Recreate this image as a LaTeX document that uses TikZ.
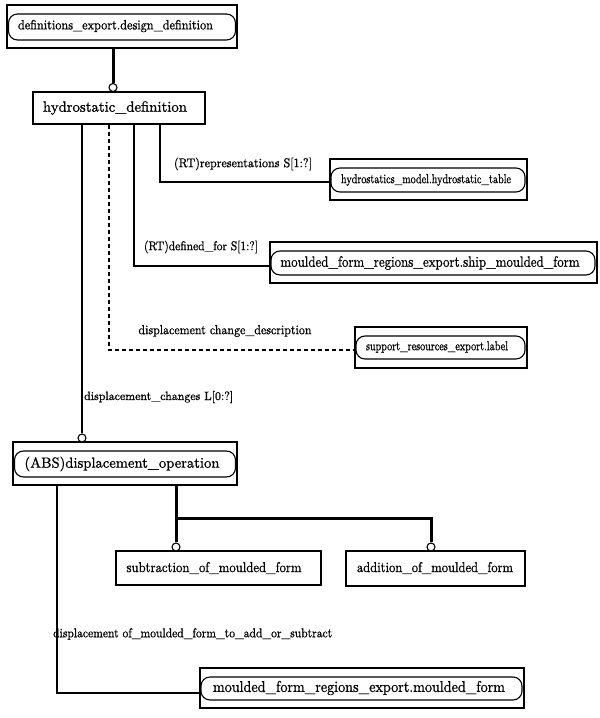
\documentclass[tikz,border=0pt]{standalone}
\usepackage{graphicx}
\usepackage{fontspec}
\setmainfont{lmroman10-regular.otf}[FakeBold=1.0]
\newcommand{\lbl}[3]{\resizebox{#1pt}{#2pt}{#3}}
\begin{document}
\begin{tikzpicture}[x=1pt,y=-1pt,
  obox/.style={draw, line width=1.1pt, inner sep=0pt, rectangle},
  rbox/.style={draw, line width=1.1pt, inner sep=0pt, rounded corners=9pt},
  txt/.style={inner sep=0pt},
  thin/.style={line width=1.1pt},
  heavy/.style={line width=3pt},
  ocirc/.style={draw, circle, fill=white, line width=1.1pt, inner sep=0pt, minimum size=8pt}]
\useasboundingbox (0,0) rectangle (600,718);
% boxes
\node[obox, minimum width=230pt, minimum height=43pt] (def) at (122,26.5) {};
\node[rbox, minimum width=227pt, minimum height=26pt] (defi) at (122,27) {};
\node[txt] (deft) at (115.5,26) {\lbl{195}{9.5}{definitions\_export.design\_definition}};

\node[obox, minimum width=172pt, minimum height=32pt] (hydro) at (119,108) {};
\node[txt] (hydrot) at (115,108) {\lbl{144}{10.5}{hydrostatic\_definition}};

\node[obox, minimum width=197pt, minimum height=41pt] (tab) at (428.5,179.5) {};
\node[rbox, minimum width=194pt, minimum height=24pt] (tabi) at (428,180) {};
\node[txt] (tabt) at (426,180) {\lbl{170}{9}{hydrostatics\_model.hydrostatic\_table}};

\node[obox, minimum width=327pt, minimum height=41pt] (ship) at (433.5,262.5) {};
\node[rbox, minimum width=324pt, minimum height=24pt] (shipi) at (433,263) {};
\node[txt] (shipt) at (430,263) {\lbl{299}{10.5}{moulded\_form\_regions\_export.ship\_moulded\_form}};

\node[obox, minimum width=172pt, minimum height=41pt] (sup) at (441,347.5) {};
\node[rbox, minimum width=169pt, minimum height=23pt] (supi) at (440.5,347.5) {};
\node[txt] (supt) at (437,347) {\lbl{142}{9}{support\_resources\_export.label}};

\node[obox, minimum width=224pt, minimum height=43pt] (disp) at (125,463.5) {};
\node[rbox, minimum width=221pt, minimum height=26pt] (dispi) at (125,464) {};
\node[txt] (dispt) at (122,464) {\lbl{195}{11}{(ABS)displacement\_operation}};

\node[obox, minimum width=205pt, minimum height=34pt] (sub) at (218.5,568) {};
\node[txt] (subt) at (214,568) {\lbl{175}{10}{subtraction\_of\_moulded\_form}};

\node[obox, minimum width=179pt, minimum height=35pt] (add) at (435.5,568.5) {};
\node[txt] (addt) at (435,568) {\lbl{156}{10}{addition\_of\_moulded\_form}};

\node[obox, minimum width=324pt, minimum height=40pt] (mould) at (362,688) {};
\node[rbox, minimum width=321pt, minimum height=23pt] (mouldi) at (361.5,688.5) {};
\node[txt] (mouldt) at (359,688) {\lbl{292}{11}{moulded\_form\_regions\_export.moulded\_form}};

% labels
\node[txt] (lrep) at (243,164) {\lbl{138}{9.5}{(RT)representations S[1:?]}};
\node[txt] (lfor) at (201,247) {\lbl{114}{9.5}{(RT)defined\_for S[1:?]}};
\node[txt] (lchg) at (225,331) {\lbl{173}{9}{displacement change\_description}};
\node[txt, anchor=west] (ldch) at (84,397) {\lbl{149}{9}{displacement\_changes L[0:?]}};
\node[txt, anchor=west] (ldof) at (53,634) {\lbl{279}{9}{displacement of\_moulded\_form\_to\_add\_or\_subtract}};

% circles
\node[ocirc] (c1) at (113,87.5) {};
\node[ocirc] (c2) at (82,438) {};
\node[ocirc] (c3) at (176,547) {};
\node[ocirc] (c4) at (431,547) {};

% helper coordinates
\coordinate (x160) at (160,0);
\coordinate (x134) at (134,0);
\coordinate (x109) at (109,0);
\coordinate (x57) at (57,0);
\coordinate (jn) at (176,518);

% connectors
\draw[heavy] (def.south -| c1) -- (c1.north);
\draw[thin] (hydro.south -| x160) |- ([yshift=-2.5pt]tab.west);
\draw[thin] (hydro.south -| x134) |- ([yshift=-3.5pt]ship.west);
\draw[thin, dash pattern=on 4pt off 3pt] (hydro.south -| x109) |- ([yshift=-2.5pt]sup.west);
\draw[thin] (hydro.south -| c2) -- (c2.north);
\draw[heavy] (disp.south -| c3) -- (c3.north);
\draw[heavy] (jn) -| (c4.north);
\draw[thin] (disp.south -| x57) |- ([yshift=-5pt]mould.west);
\end{tikzpicture}
\end{document}
